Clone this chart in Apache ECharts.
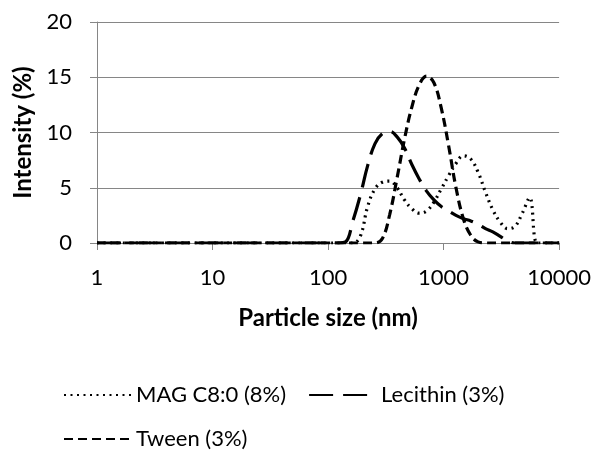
<!DOCTYPE html>
<html>
<head>
<meta charset="utf-8">
<script src="https://cdn.jsdelivr.net/npm/echarts@6/dist/echarts.min.js"></script>
<style>
  html, body { margin: 0; padding: 0; background: #fff; }
  .chart { width: 594px; height: 450px; }
</style>
</head>
<body>
<div class="chart"></div>
<script>
// particle size bins (nm)
var sizes = [1, 10, 100, 122.4, 141.8, 164.2, 190.1, 220.2, 255.0, 295.3, 342.0, 396.1, 458.7,
    531.2, 615.1, 712.4, 825.0, 955.4, 1106, 1281, 1484, 1718, 1990, 2305, 2669, 3091,
    3580, 4145, 4801, 5560, 6439, 7456, 8635, 10000];
// intensity (%) per bin
var magValues = [0, 0, 0, 0, 0, 0, 0.6, 3.3, 4.9, 5.5, 5.6, 5.0, 3.9,
    3.1, 2.7, 2.9, 3.7, 4.9, 6.1, 7.2, 7.9, 7.6, 6.4, 4.6, 3.0, 1.9,
    1.3, 1.5, 2.7, 4.1, 0, 0, 0, 0];
var lecithinValues = [0, 0, 0, 0, 0.1, 2.0, 4.3, 7.0, 9.0, 9.9, 10.1, 9.6, 8.6,
    7.1, 5.8, 4.7, 3.9, 3.3, 2.9, 2.5, 2.2, 2.0, 1.7, 1.3, 1.0, 0.6,
    0.2, 0, 0, 0, 0, 0, 0, 0];
var tweenValues = [0, 0, 0, 0, 0, 0, 0, 0, 0, 0.4, 2.6, 5.9, 9.4,
    12.3, 14.3, 15.1, 14.5, 12.2, 8.8, 5.0, 2.2, 0.7, 0.1, 0, 0, 0,
    0, 0, 0, 0, 0, 0, 0, 0];
var seriesNames = ['MAG C8:0 (8%)', 'Lecithin (3%)', 'Tween (3%)'];

(function(){
    var myChart = echarts.init(document.querySelector('.chart'));

    function pairs(values) {
        return sizes.map(function(s, i) { return [s, values[i]]; });
    }

    var font = 'Lato';
    var gridColor = '#868686';

    function lineSeries(name, values, dash) {
        return {
            name: name,
            type: 'line',
            data: pairs(values),
            smooth: 0.4,
            symbol: 'none',
            lineStyle: { color: '#000', width: 3.2, type: dash },
            itemStyle: { color: '#000' }
        };
    }

    var legendText = { fontFamily: font, fontSize: 22, color: '#000' };

    var option = {
        animation: false,
        backgroundColor: '#fff',
        grid: { left: 97, right: 34, top: 22, bottom: 207 },
        legend: [{
            data: [seriesNames[0], seriesNames[1]],
            left: 58,
            top: 379,
            itemWidth: 67,
            itemHeight: 14,
            itemGap: 22,
            itemStyle: { opacity: 0 },
            textStyle: legendText
        }, {
            data: [seriesNames[2]],
            left: 58,
            top: 423,
            itemWidth: 67,
            itemHeight: 14,
            itemStyle: { opacity: 0 },
            textStyle: legendText
        }],
        xAxis: {
            type: 'log',
            logBase: 10,
            min: 1,
            max: 10000,
            name: 'Particle size (nm)',
            nameLocation: 'middle',
            nameGap: 63,
            nameTextStyle: { fontFamily: font, fontSize: 24, fontWeight: 'bold', color: '#000' },
            axisLine: { lineStyle: { color: gridColor, width: 1 } },
            axisTick: { show: true, length: 7, lineStyle: { color: gridColor } },
            minorTick: { show: false },
            splitLine: { show: false },
            axisLabel: {
                fontFamily: font, fontSize: 22, color: '#000', margin: 24,
                formatter: function(v) { return String(v); }
            }
        },
        yAxis: {
            type: 'value',
            min: 0,
            max: 20,
            interval: 5,
            name: 'Intensity (%)',
            nameLocation: 'middle',
            nameGap: 52,
            nameTextStyle: { fontFamily: font, fontSize: 24, fontWeight: 'bold', color: '#000' },
            axisLine: { show: true, lineStyle: { color: gridColor, width: 1 } },
            axisTick: { show: true, length: 7, lineStyle: { color: gridColor } },
            splitLine: { show: true, lineStyle: { color: gridColor, width: 1 } },
            axisLabel: { fontFamily: font, fontSize: 22, color: '#000', margin: 25 }
        },
        series: [
            lineSeries(seriesNames[0], magValues, [2, 4.5]),
            lineSeries(seriesNames[1], lecithinValues, [24, 10]),
            lineSeries(seriesNames[2], tweenValues, [9, 5])
        ]
    };

    myChart.setOption(option);
    window.addEventListener('resize', function() {
        myChart.resize();
    });
})();
</script>
</body>
</html>
